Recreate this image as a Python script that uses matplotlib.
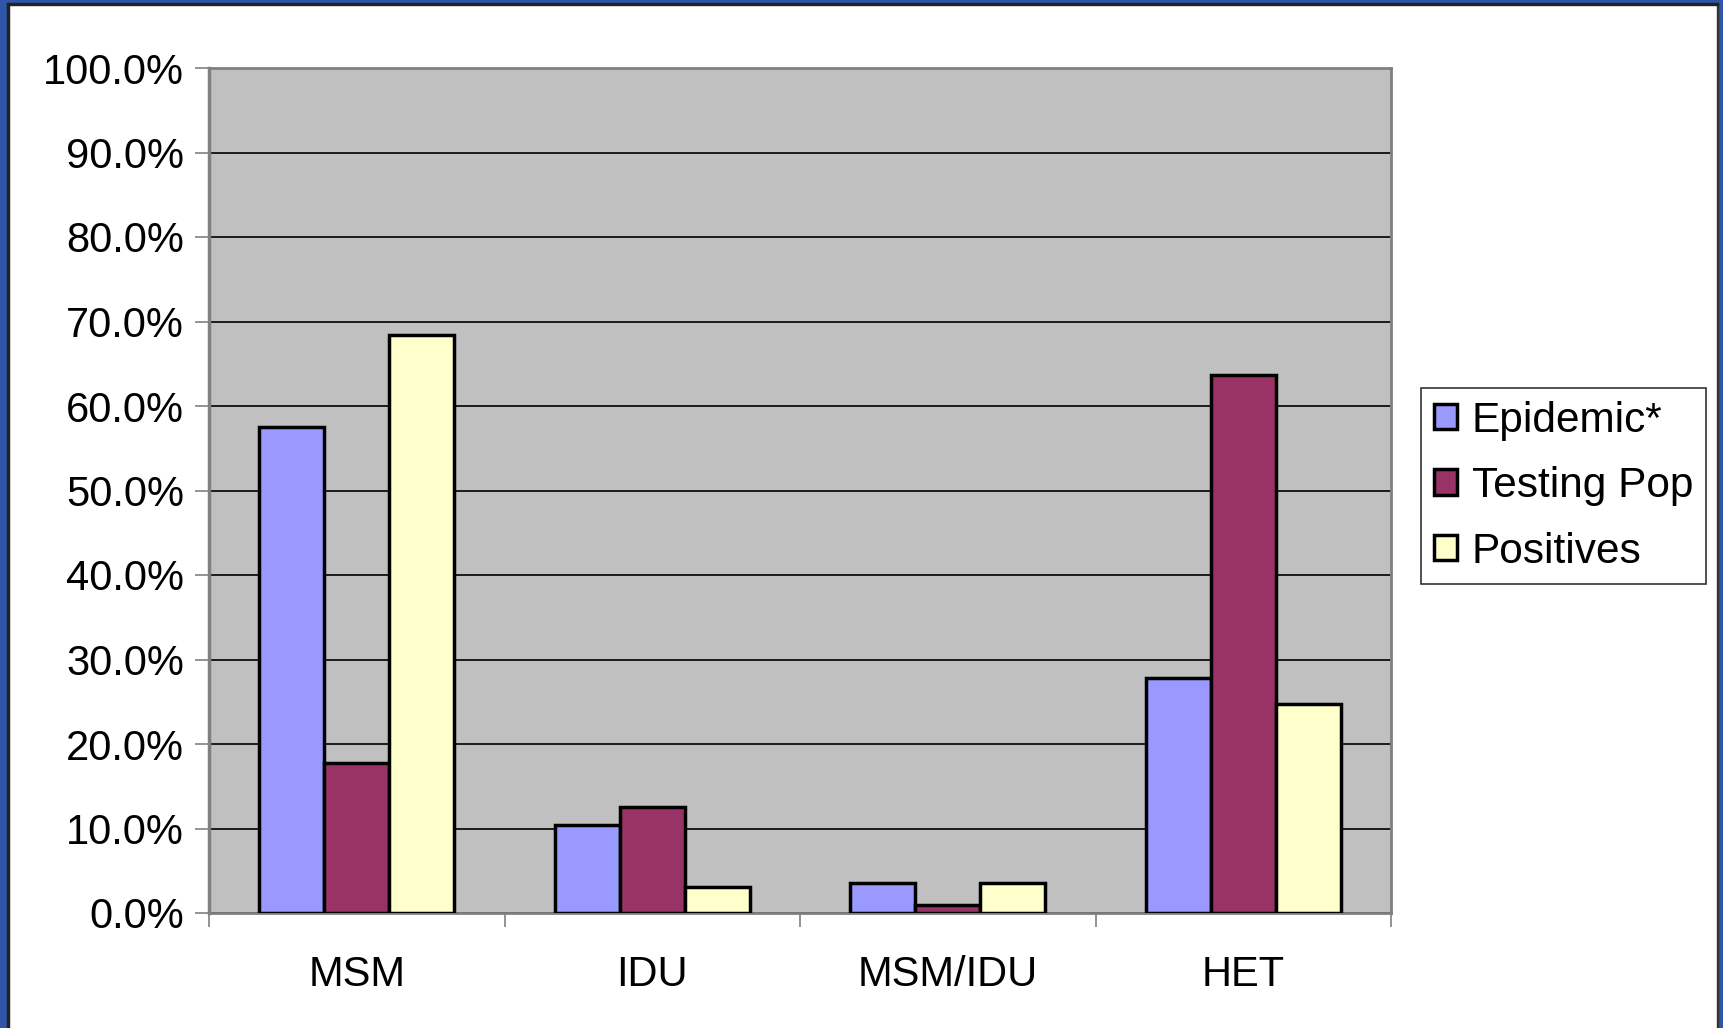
import numpy as np
import matplotlib.pyplot as plt
from matplotlib.patches import Rectangle

plt.rcParams['font.family'] = ['Liberation Sans', 'DejaVu Sans']

categories = ['MSM', 'IDU', 'MSM/IDU', 'HET']
series = ['Epidemic*', 'Testing Pop', 'Positives']
epidemic = [57.5, 10.4, 3.5, 27.8]
testing_pop = [17.8, 12.5, 0.9, 63.7]
positives = [68.4, 3.1, 3.5, 24.7]
colors = ['#9999FF', '#993366', '#FFFFCC']

W, H = 1723, 1028
fig = plt.figure(figsize=(W / 100, H / 100), dpi=100)
fig.patch.set_facecolor('white')

# blue slide frame round the chart
blue = '#2F55A8'
fig.add_artist(Rectangle((0, 0), 7 / W, 1, transform=fig.transFigure, color=blue, zorder=0))
fig.add_artist(Rectangle((0, 1 - 3 / H), 1, 3 / H, transform=fig.transFigure, color=blue, zorder=0))
fig.add_artist(Rectangle((1 - 5 / W, 0), 5 / W, 1, transform=fig.transFigure, color=blue, zorder=0))
fig.add_artist(Rectangle((7 / W, 0), 1.5 / W, 1 - 3 / H, transform=fig.transFigure, color='#222222', zorder=0))
fig.add_artist(Rectangle((1 - 6.5 / W, 0), 1.5 / W, 1 - 3 / H, transform=fig.transFigure, color='#333333', zorder=0))
fig.add_artist(Rectangle((7 / W, 1 - 4.5 / H), 1 - 12 / W, 1.5 / H, transform=fig.transFigure, color='#222222', zorder=0))

ax = fig.add_axes([209 / W, 1 - 913 / H, (1391 - 209) / W, (913 - 68) / H])
ax.set_facecolor('#C0C0C0')

x = np.arange(len(categories))
bw = 0.22
for i, (vals, c, name) in enumerate(zip([epidemic, testing_pop, positives], colors, series)):
    ax.bar(x + (i - 1) * bw, vals, bw, color=c, edgecolor='black', linewidth=2.5,
           label=name, zorder=3)

ax.set_ylim(0, 100)
ax.set_xlim(-0.5, len(categories) - 0.5)
ax.set_yticks(np.arange(0, 101, 10))
ax.set_yticklabels([f'{v:.1f}%' for v in np.arange(0, 101, 10)], fontsize=30)
ax.yaxis.grid(True, color='black', linewidth=1.2, zorder=1)
ax.set_axisbelow(True)

ax.set_xticks(np.arange(-0.5, len(categories), 1.0))
ax.set_xticklabels([])
ax.set_xticks(x, minor=True)
ax.set_xticklabels(categories, minor=True, fontsize=30)
ax.tick_params(axis='x', which='minor', length=0, pad=30)
ax.tick_params(axis='x', which='major', length=10, color='#808080', width=1.2)
ax.tick_params(axis='y', length=10, color='#808080', width=1.2, pad=8)

for s in ['top', 'right', 'bottom']:
    ax.spines[s].set_color('#808080')
    ax.spines[s].set_linewidth(2)
ax.spines['left'].set_color('#808080')
ax.spines['left'].set_linewidth(2.5)

leg = ax.legend(loc='upper left', bbox_to_anchor=(1421 / W, 1 - 388 / H), bbox_transform=fig.transFigure,
                fontsize=30.5, frameon=True, fancybox=False, edgecolor='black',
                handlelength=0.55, handleheight=0.55, handletextpad=0.35,
                labelspacing=0.6, borderpad=0.3, borderaxespad=0)
leg.get_frame().set_linewidth(1.2)

fig.savefig('out.png', dpi=100)
